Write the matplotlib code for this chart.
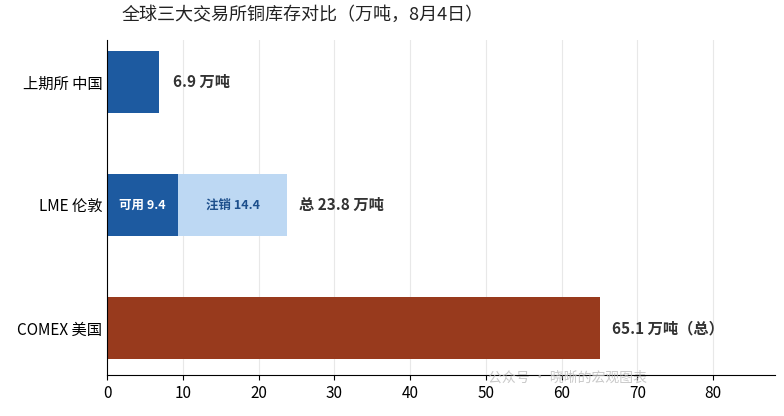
import matplotlib
matplotlib.use("Agg")
import matplotlib.pyplot as plt

plt.rcParams['font.family'] = ['Noto Sans CJK SC', 'DejaVu Sans']

categories = ['上期所 中国', 'LME 伦敦', 'COMEX 美国']
shfe = 6.9
lme_avail = 9.4
lme_cancel = 14.4
comex = 65.1
xticks = [0, 10, 20, 30, 40, 50, 60, 70, 80]

fig = plt.figure(figsize=(7.84, 4.16), dpi=100)
ax = fig.add_axes([107/784, 1-375/416, (775-107)/784, (375-40)/416])
ax.set_xlim(0, 80*(775-107)/(713-107))
ax.set_ylim(2.38, -0.34)
dark = '#1d5aa0'
light = '#bdd8f3'
brown = '#983a1d'
h = 0.5
ax.barh(0, shfe, height=h, color=dark)
ax.barh(1, lme_avail, height=h, color=dark)
ax.barh(1, lme_cancel, left=lme_avail, height=h, color=light)
ax.barh(2, comex, height=h, color=brown)

ax.text(shfe + 1.8, 0, f'{shfe} 万吨', va='center', fontsize=11, fontweight='bold', color='#333333')
ax.text(lme_avail/2, 1, f'可用 {lme_avail}', va='center', ha='center', fontsize=9, fontweight='bold', color='white')
ax.text(lme_avail + lme_cancel/2, 1, f'注销 {lme_cancel}', va='center', ha='center', fontsize=9, fontweight='bold', color='#1d4f8c')
ax.text(lme_avail + lme_cancel + 1.6, 1, f'总 {lme_avail+lme_cancel:.1f} 万吨', va='center', fontsize=11, fontweight='bold', color='#333333')
ax.text(comex + 1.6, 2, f'{comex} 万吨（总）', va='center', fontsize=11, fontweight='bold', color='#333333')

ax.set_yticks([0, 1, 2])
ax.set_yticklabels(categories, fontsize=11)
ax.set_xticks(xticks)
ax.tick_params(axis='x', labelsize=11)
ax.xaxis.grid(True, color='#e8e8e8', linewidth=0.8)
ax.set_axisbelow(True)
for s in ['top', 'right']:
    ax.spines[s].set_visible(False)
ax.tick_params(axis='y', length=0)

fig.text(122/784, 1-15/416, '全球三大交易所铜库存对比（万吨，8月4日）', fontsize=13, va='center', color='#222222')
fig.text(488/784, 1-378/416, '公众号 · 晓晰的宏观图表', fontsize=10, va='center', color='#bbbbbb', alpha=0.8)

fig.savefig('out.png', dpi=100)
